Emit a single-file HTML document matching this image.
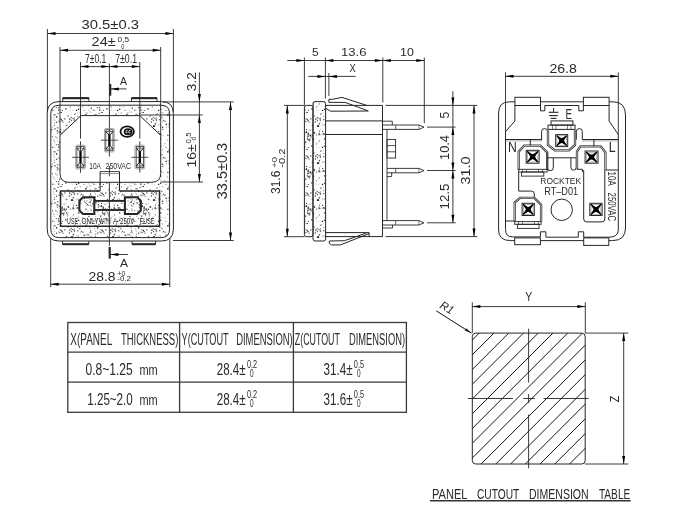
<!DOCTYPE html>
<html><head><meta charset="utf-8"><style>html,body{margin:0;padding:0;background:#fff;width:700px;height:516px;overflow:hidden} svg{will-change:transform} text{font-family:"Liberation Sans",sans-serif}</style></head>
<body><svg width="700" height="516" viewBox="0 0 700 516" style="display:block" font-family="Liberation Sans, sans-serif">
<defs><pattern id="stip" width="41" height="37" patternUnits="userSpaceOnUse"><rect x="18.5" y="20.7" width="1.4" height="1.4" fill="#222" fill-opacity="1.0"/><rect x="20.8" y="21.7" width="1.0" height="1.0" fill="#222" fill-opacity="1.0"/><rect x="25.8" y="29.3" width="0.9" height="0.9" fill="#222" fill-opacity="1.0"/><rect x="12.4" y="3.4" width="0.9" height="0.9" fill="#222" fill-opacity="1.0"/><rect x="39.6" y="24.2" width="1.0" height="1.0" fill="#222" fill-opacity="0.35"/><rect x="34.1" y="2.3" width="0.9" height="0.9" fill="#222" fill-opacity="0.6"/><rect x="36.1" y="22.2" width="1.4" height="1.4" fill="#222" fill-opacity="0.85"/><rect x="18.1" y="31.2" width="1.0" height="1.0" fill="#222" fill-opacity="0.85"/><rect x="20.5" y="24.5" width="1.4" height="1.4" fill="#222" fill-opacity="0.85"/><rect x="16.7" y="20.4" width="0.9" height="0.9" fill="#222" fill-opacity="0.85"/><rect x="12.9" y="8.5" width="1.2" height="1.2" fill="#222" fill-opacity="0.35"/><rect x="2.9" y="28.4" width="1.4" height="1.4" fill="#222" fill-opacity="0.35"/><rect x="34.7" y="14.3" width="0.9" height="0.9" fill="#222" fill-opacity="0.35"/><rect x="8.8" y="34.3" width="0.9" height="0.9" fill="#222" fill-opacity="1.0"/><rect x="15.4" y="26.2" width="1.4" height="1.4" fill="#222" fill-opacity="0.35"/><rect x="23.2" y="7.3" width="1.2" height="1.2" fill="#222" fill-opacity="0.85"/><rect x="3.6" y="12.3" width="1.4" height="1.4" fill="#222" fill-opacity="0.35"/><rect x="5.5" y="26.2" width="0.9" height="0.9" fill="#222" fill-opacity="0.35"/><rect x="19.1" y="18.0" width="1.0" height="1.0" fill="#222" fill-opacity="1.0"/><rect x="20.9" y="36.5" width="1.0" height="1.0" fill="#222" fill-opacity="1.0"/><rect x="26.4" y="4.3" width="1.4" height="1.4" fill="#222" fill-opacity="0.6"/><rect x="0.0" y="32.0" width="1.2" height="1.2" fill="#222" fill-opacity="0.35"/><rect x="8.6" y="14.6" width="0.9" height="0.9" fill="#222" fill-opacity="0.35"/><rect x="40.6" y="7.9" width="1.2" height="1.2" fill="#222" fill-opacity="0.35"/><rect x="31.7" y="12.2" width="1.2" height="1.2" fill="#222" fill-opacity="1.0"/><rect x="3.0" y="3.3" width="1.0" height="1.0" fill="#222" fill-opacity="0.35"/><rect x="24.7" y="13.8" width="1.4" height="1.4" fill="#222" fill-opacity="0.6"/><rect x="39.3" y="17.9" width="1.0" height="1.0" fill="#222" fill-opacity="1.0"/><rect x="7.5" y="5.7" width="1.0" height="1.0" fill="#222" fill-opacity="0.6"/><rect x="29.7" y="5.9" width="1.0" height="1.0" fill="#222" fill-opacity="1.0"/><rect x="36.2" y="22.3" width="1.4" height="1.4" fill="#222" fill-opacity="0.35"/><rect x="4.3" y="1.4" width="1.2" height="1.2" fill="#222" fill-opacity="0.6"/><rect x="30.3" y="14.5" width="1.4" height="1.4" fill="#222" fill-opacity="1.0"/><rect x="12.0" y="6.5" width="0.9" height="0.9" fill="#222" fill-opacity="0.6"/><rect x="9.4" y="20.7" width="0.9" height="0.9" fill="#222" fill-opacity="0.85"/><rect x="8.7" y="33.9" width="0.9" height="0.9" fill="#222" fill-opacity="0.35"/><rect x="11.0" y="16.5" width="0.9" height="0.9" fill="#222" fill-opacity="0.35"/><rect x="7.2" y="13.6" width="1.0" height="1.0" fill="#222" fill-opacity="0.35"/><rect x="14.8" y="33.0" width="1.2" height="1.2" fill="#222" fill-opacity="0.6"/><rect x="24.2" y="34.2" width="1.4" height="1.4" fill="#222" fill-opacity="0.85"/><rect x="28.7" y="35.6" width="0.9" height="0.9" fill="#222" fill-opacity="0.35"/><rect x="19.8" y="27.0" width="1.2" height="1.2" fill="#222" fill-opacity="0.6"/><rect x="41.0" y="2.8" width="1.2" height="1.2" fill="#222" fill-opacity="0.35"/><rect x="36.9" y="27.3" width="1.0" height="1.0" fill="#222" fill-opacity="0.85"/><rect x="14.4" y="25.4" width="0.9" height="0.9" fill="#222" fill-opacity="1.0"/><rect x="38.7" y="1.1" width="1.4" height="1.4" fill="#222" fill-opacity="0.35"/><rect x="25.6" y="14.1" width="0.9" height="0.9" fill="#222" fill-opacity="0.35"/><rect x="3.3" y="23.7" width="1.2" height="1.2" fill="#222" fill-opacity="1.0"/><rect x="29.9" y="14.4" width="1.4" height="1.4" fill="#222" fill-opacity="1.0"/><rect x="19.0" y="20.0" width="0.9" height="0.9" fill="#222" fill-opacity="0.85"/><rect x="24.7" y="17.8" width="1.0" height="1.0" fill="#222" fill-opacity="0.35"/><rect x="20.4" y="22.7" width="1.4" height="1.4" fill="#222" fill-opacity="0.85"/><rect x="36.8" y="13.6" width="1.0" height="1.0" fill="#222" fill-opacity="0.6"/><rect x="21.3" y="27.9" width="1.2" height="1.2" fill="#222" fill-opacity="1.0"/><rect x="20.4" y="8.9" width="1.4" height="1.4" fill="#222" fill-opacity="0.85"/><rect x="8.1" y="15.9" width="1.0" height="1.0" fill="#222" fill-opacity="0.6"/><rect x="15.8" y="21.6" width="1.2" height="1.2" fill="#222" fill-opacity="0.6"/><rect x="5.6" y="18.4" width="0.9" height="0.9" fill="#222" fill-opacity="0.35"/><rect x="39.0" y="10.2" width="1.0" height="1.0" fill="#222" fill-opacity="0.35"/><rect x="18.5" y="10.2" width="1.0" height="1.0" fill="#222" fill-opacity="1.0"/><rect x="15.7" y="19.2" width="1.2" height="1.2" fill="#222" fill-opacity="1.0"/><rect x="13.1" y="30.7" width="1.2" height="1.2" fill="#222" fill-opacity="0.35"/><rect x="27.8" y="10.4" width="1.2" height="1.2" fill="#222" fill-opacity="0.85"/><rect x="26.6" y="20.9" width="1.0" height="1.0" fill="#222" fill-opacity="1.0"/><rect x="18.6" y="0.9" width="1.2" height="1.2" fill="#222" fill-opacity="0.6"/><rect x="31.9" y="29.5" width="0.9" height="0.9" fill="#222" fill-opacity="1.0"/><rect x="4.5" y="19.8" width="1.2" height="1.2" fill="#222" fill-opacity="0.35"/><rect x="28.1" y="7.4" width="1.4" height="1.4" fill="#222" fill-opacity="0.85"/><rect x="7.3" y="0.4" width="1.4" height="1.4" fill="#222" fill-opacity="0.35"/><rect x="7.3" y="10.1" width="1.2" height="1.2" fill="#222" fill-opacity="0.6"/><rect x="16.1" y="29.3" width="1.0" height="1.0" fill="#222" fill-opacity="0.35"/><rect x="16.8" y="33.0" width="1.4" height="1.4" fill="#222" fill-opacity="0.6"/><rect x="18.5" y="7.3" width="0.9" height="0.9" fill="#222" fill-opacity="1.0"/><rect x="22.6" y="24.1" width="1.2" height="1.2" fill="#222" fill-opacity="1.0"/><rect x="13.4" y="36.3" width="0.9" height="0.9" fill="#222" fill-opacity="0.35"/><rect x="8.7" y="33.3" width="0.9" height="0.9" fill="#222" fill-opacity="0.85"/><rect x="22.0" y="29.3" width="1.2" height="1.2" fill="#222" fill-opacity="0.85"/><rect x="37.3" y="31.7" width="1.2" height="1.2" fill="#222" fill-opacity="0.35"/><rect x="1.5" y="12.7" width="1.4" height="1.4" fill="#222" fill-opacity="0.85"/><rect x="20.0" y="1.1" width="0.9" height="0.9" fill="#222" fill-opacity="1.0"/><rect x="32.8" y="6.4" width="1.2" height="1.2" fill="#222" fill-opacity="0.6"/><rect x="19.3" y="37.0" width="1.4" height="1.4" fill="#222" fill-opacity="1.0"/><rect x="23.7" y="25.5" width="1.0" height="1.0" fill="#222" fill-opacity="1.0"/><rect x="21.6" y="10.7" width="1.0" height="1.0" fill="#222" fill-opacity="0.85"/><rect x="12.8" y="14.1" width="1.0" height="1.0" fill="#222" fill-opacity="0.85"/><rect x="34.9" y="35.8" width="1.2" height="1.2" fill="#222" fill-opacity="1.0"/><rect x="8.2" y="19.8" width="0.9" height="0.9" fill="#222" fill-opacity="1.0"/><rect x="1.1" y="35.9" width="1.4" height="1.4" fill="#222" fill-opacity="0.35"/><rect x="20.1" y="25.6" width="0.9" height="0.9" fill="#222" fill-opacity="1.0"/><rect x="17.0" y="35.4" width="1.4" height="1.4" fill="#222" fill-opacity="0.85"/><rect x="10.1" y="18.2" width="1.2" height="1.2" fill="#222" fill-opacity="1.0"/><rect x="36.9" y="34.6" width="1.4" height="1.4" fill="#222" fill-opacity="0.85"/><rect x="4.5" y="15.5" width="0.9" height="0.9" fill="#222" fill-opacity="0.85"/><rect x="5.3" y="28.8" width="0.9" height="0.9" fill="#222" fill-opacity="0.35"/><rect x="8.0" y="8.4" width="1.2" height="1.2" fill="#222" fill-opacity="0.85"/><rect x="29.7" y="9.0" width="1.4" height="1.4" fill="#222" fill-opacity="0.35"/><rect x="20.5" y="21.5" width="1.2" height="1.2" fill="#222" fill-opacity="0.6"/><rect x="28.8" y="32.5" width="0.9" height="0.9" fill="#222" fill-opacity="1.0"/><rect x="26.0" y="30.5" width="1.0" height="1.0" fill="#222" fill-opacity="0.6"/><rect x="35.4" y="19.8" width="1.0" height="1.0" fill="#222" fill-opacity="0.6"/><rect x="34.9" y="22.6" width="1.0" height="1.0" fill="#222" fill-opacity="0.6"/><rect x="37.5" y="23.2" width="1.2" height="1.2" fill="#222" fill-opacity="0.6"/><rect x="13.0" y="11.7" width="1.0" height="1.0" fill="#222" fill-opacity="0.6"/><rect x="31.9" y="7.2" width="0.9" height="0.9" fill="#222" fill-opacity="0.6"/><rect x="36.4" y="4.9" width="0.9" height="0.9" fill="#222" fill-opacity="0.85"/><rect x="15.9" y="16.1" width="1.4" height="1.4" fill="#222" fill-opacity="0.6"/><rect x="8.2" y="23.2" width="0.9" height="0.9" fill="#222" fill-opacity="0.35"/><rect x="8.2" y="25.2" width="1.2" height="1.2" fill="#222" fill-opacity="0.35"/><rect x="28.9" y="23.5" width="1.2" height="1.2" fill="#222" fill-opacity="0.6"/><rect x="32.9" y="17.8" width="0.9" height="0.9" fill="#222" fill-opacity="0.35"/><rect x="31.2" y="22.7" width="1.4" height="1.4" fill="#222" fill-opacity="0.6"/><rect x="7.8" y="4.3" width="1.0" height="1.0" fill="#222" fill-opacity="0.6"/><rect x="40.6" y="34.3" width="0.9" height="0.9" fill="#222" fill-opacity="0.35"/><rect x="5.5" y="25.2" width="0.9" height="0.9" fill="#222" fill-opacity="0.35"/><rect x="13.4" y="17.3" width="1.2" height="1.2" fill="#222" fill-opacity="1.0"/><rect x="8.6" y="13.8" width="0.9" height="0.9" fill="#222" fill-opacity="0.6"/><rect x="7.4" y="16.8" width="1.2" height="1.2" fill="#222" fill-opacity="1.0"/><rect x="37.8" y="22.4" width="0.9" height="0.9" fill="#222" fill-opacity="0.35"/><rect x="13.3" y="3.1" width="1.4" height="1.4" fill="#222" fill-opacity="0.6"/><rect x="20.7" y="36.4" width="1.2" height="1.2" fill="#222" fill-opacity="0.85"/><rect x="37.4" y="27.5" width="1.0" height="1.0" fill="#222" fill-opacity="1.0"/><rect x="5.5" y="12.2" width="1.2" height="1.2" fill="#222" fill-opacity="1.0"/><rect x="31.4" y="15.0" width="1.0" height="1.0" fill="#222" fill-opacity="0.35"/><rect x="32.7" y="11.2" width="0.9" height="0.9" fill="#222" fill-opacity="0.35"/><rect x="36.4" y="36.7" width="0.9" height="0.9" fill="#222" fill-opacity="0.6"/><rect x="11.2" y="35.6" width="1.2" height="1.2" fill="#222" fill-opacity="0.85"/><rect x="8.9" y="15.0" width="1.0" height="1.0" fill="#222" fill-opacity="0.35"/><rect x="16.0" y="37.0" width="1.0" height="1.0" fill="#222" fill-opacity="0.35"/><rect x="31.2" y="36.3" width="0.9" height="0.9" fill="#222" fill-opacity="0.35"/><rect x="25.2" y="27.3" width="1.2" height="1.2" fill="#222" fill-opacity="1.0"/><rect x="16.5" y="1.9" width="1.0" height="1.0" fill="#222" fill-opacity="1.0"/><rect x="0.4" y="9.6" width="1.2" height="1.2" fill="#222" fill-opacity="0.85"/><rect x="22.6" y="18.8" width="0.9" height="0.9" fill="#222" fill-opacity="1.0"/><rect x="33.2" y="2.8" width="0.9" height="0.9" fill="#222" fill-opacity="1.0"/><rect x="38.1" y="5.9" width="1.4" height="1.4" fill="#222" fill-opacity="0.6"/><rect x="35.1" y="20.1" width="0.9" height="0.9" fill="#222" fill-opacity="1.0"/><rect x="38.8" y="15.6" width="1.4" height="1.4" fill="#222" fill-opacity="0.85"/><rect x="15.0" y="10.6" width="1.2" height="1.2" fill="#222" fill-opacity="0.85"/><rect x="27.2" y="27.7" width="0.9" height="0.9" fill="#222" fill-opacity="0.35"/><rect x="31.7" y="21.7" width="1.0" height="1.0" fill="#222" fill-opacity="1.0"/><rect x="30.9" y="14.4" width="1.2" height="1.2" fill="#222" fill-opacity="1.0"/><rect x="2.1" y="36.6" width="1.2" height="1.2" fill="#222" fill-opacity="0.35"/><rect x="32.7" y="8.3" width="1.4" height="1.4" fill="#222" fill-opacity="0.85"/><rect x="39.9" y="9.0" width="0.9" height="0.9" fill="#222" fill-opacity="1.0"/><rect x="5.9" y="35.5" width="1.0" height="1.0" fill="#222" fill-opacity="0.35"/><rect x="2.1" y="15.4" width="0.9" height="0.9" fill="#222" fill-opacity="0.6"/><rect x="35.3" y="13.2" width="1.0" height="1.0" fill="#222" fill-opacity="0.35"/><rect x="14.9" y="5.2" width="1.4" height="1.4" fill="#222" fill-opacity="1.0"/><rect x="24.6" y="23.7" width="1.4" height="1.4" fill="#222" fill-opacity="0.85"/><rect x="31.9" y="19.6" width="1.0" height="1.0" fill="#222" fill-opacity="0.85"/><rect x="30.1" y="8.8" width="0.9" height="0.9" fill="#222" fill-opacity="0.85"/><rect x="32.2" y="23.1" width="1.2" height="1.2" fill="#222" fill-opacity="0.85"/><rect x="11.1" y="25.3" width="1.0" height="1.0" fill="#222" fill-opacity="0.85"/><rect x="30.9" y="7.0" width="1.0" height="1.0" fill="#222" fill-opacity="0.6"/><rect x="36.0" y="1.5" width="0.9" height="0.9" fill="#222" fill-opacity="0.35"/><rect x="11.1" y="15.7" width="0.9" height="0.9" fill="#222" fill-opacity="0.35"/><rect x="9.1" y="10.3" width="0.9" height="0.9" fill="#222" fill-opacity="0.6"/><rect x="22.6" y="23.4" width="1.2" height="1.2" fill="#222" fill-opacity="1.0"/><rect x="19.6" y="7.8" width="1.2" height="1.2" fill="#222" fill-opacity="1.0"/><rect x="30.5" y="31.0" width="0.9" height="0.9" fill="#222" fill-opacity="0.35"/><rect x="18.3" y="30.4" width="1.0" height="1.0" fill="#222" fill-opacity="1.0"/><rect x="17.4" y="9.5" width="1.0" height="1.0" fill="#222" fill-opacity="0.85"/><rect x="6.3" y="30.9" width="1.2" height="1.2" fill="#222" fill-opacity="0.85"/><rect x="22.5" y="27.6" width="1.0" height="1.0" fill="#222" fill-opacity="1.0"/><rect x="26.8" y="21.5" width="1.4" height="1.4" fill="#222" fill-opacity="0.85"/><rect x="3.2" y="3.1" width="1.4" height="1.4" fill="#222" fill-opacity="1.0"/><rect x="12.3" y="28.7" width="0.9" height="0.9" fill="#222" fill-opacity="0.85"/><rect x="8.7" y="24.5" width="0.9" height="0.9" fill="#222" fill-opacity="0.85"/><rect x="20.3" y="28.3" width="1.2" height="1.2" fill="#222" fill-opacity="0.85"/><rect x="36.2" y="8.1" width="1.2" height="1.2" fill="#222" fill-opacity="0.85"/></pattern></defs>
<rect width="700" height="516" fill="#fff"/>
<path d="M59.3,105.2 L161.1,105.2 Q169.6,105.2 169.6,113.7 L169.6,229.1 Q169.6,237.6 161.1,237.6 L59.3,237.6 Q50.8,237.6 50.8,229.1 L50.8,113.7 Q50.8,105.2 59.3,105.2 Z M81,115.6 L139.8,115.6 L160.7,135.3 L160.7,173.3 Q160.7,182.3 151.7,182.3 L69,182.3 Q60,182.3 60,173.3 L60,135.3 Z" fill="url(#stip)" fill-rule="evenodd" stroke="none"/>
<path d="M59.2,101.6 L161.4,101.6 Q173.4,101.6 173.4,113.6 L173.4,229 Q173.4,241 161.4,241 L59.2,241 Q47.2,241 47.2,229 L47.2,113.6 Q47.2,101.6 59.2,101.6 Z" fill="none" stroke="#262626" stroke-width="1.0" />
<path d="M59.3,105.2 L161.1,105.2 Q169.6,105.2 169.6,113.7 L169.6,229.1 Q169.6,237.6 161.1,237.6 L59.3,237.6 Q50.8,237.6 50.8,229.1 L50.8,113.7 Q50.8,105.2 59.3,105.2 Z" fill="none" stroke="#262626" stroke-width="1.0" />
<path d="M81,115.6 L139.8,115.6 L160.7,135.3 L160.7,173.3 Q160.7,182.3 151.7,182.3 L69,182.3 Q60,182.3 60,173.3 L60,135.3 Z" fill="none" stroke="#262626" stroke-width="1.0" />
<polyline points="62.70,101.60 62.70,97.80 88.90,97.80 88.90,101.60" fill="none" stroke="#262626" stroke-width="0.9" stroke-linejoin="miter"/>
<line x1="62.70" y1="98.20" x2="88.90" y2="98.20" stroke="#262626" stroke-width="2.0"/>
<polyline points="131.50,101.60 131.50,97.80 157.00,97.80 157.00,101.60" fill="none" stroke="#262626" stroke-width="0.9" stroke-linejoin="miter"/>
<line x1="131.50" y1="98.20" x2="157.00" y2="98.20" stroke="#262626" stroke-width="2.0"/>
<polyline points="62.60,241.00 62.60,244.40 88.80,244.40 88.80,241.00" fill="none" stroke="#262626" stroke-width="0.9" stroke-linejoin="miter"/>
<line x1="62.60" y1="244.20" x2="88.80" y2="244.20" stroke="#262626" stroke-width="2.0"/>
<polyline points="132.00,241.00 132.00,244.40 155.60,244.40 155.60,241.00" fill="none" stroke="#262626" stroke-width="0.9" stroke-linejoin="miter"/>
<line x1="132.00" y1="244.20" x2="155.60" y2="244.20" stroke="#262626" stroke-width="2.0"/>
<line x1="47.40" y1="29.00" x2="47.40" y2="112.00" stroke="#262626" stroke-width="0.9"/>
<line x1="173.40" y1="29.00" x2="173.40" y2="112.00" stroke="#262626" stroke-width="0.9"/>
<line x1="60.00" y1="47.00" x2="60.00" y2="135.30" stroke="#262626" stroke-width="0.9"/>
<line x1="160.70" y1="47.00" x2="160.70" y2="135.30" stroke="#262626" stroke-width="0.9"/>
<line x1="80.50" y1="62.00" x2="80.50" y2="138.60" stroke="#262626" stroke-width="0.9"/>
<line x1="80.50" y1="141.30" x2="80.50" y2="172.70" stroke="#262626" stroke-width="0.9"/>
<line x1="139.80" y1="62.00" x2="139.80" y2="138.60" stroke="#262626" stroke-width="0.9"/>
<line x1="139.80" y1="141.30" x2="139.80" y2="172.70" stroke="#262626" stroke-width="0.9"/>
<line x1="109.40" y1="63.50" x2="109.40" y2="156.50" stroke="#262626" stroke-width="0.9"/>
<line x1="109.40" y1="166.00" x2="109.40" y2="176.30" stroke="#262626" stroke-width="0.9"/>
<line x1="109.40" y1="182.50" x2="109.40" y2="246.00" stroke="#262626" stroke-width="0.9"/>
<line x1="47.50" y1="33.50" x2="173.40" y2="33.50" stroke="#262626" stroke-width="0.9"/>
<polygon points="47.50,33.50 55.50,32.00 55.50,35.00" fill="#000"/>
<polygon points="173.40,33.50 165.40,32.00 165.40,35.00" fill="#000"/>
<line x1="60.00" y1="50.30" x2="160.70" y2="50.30" stroke="#262626" stroke-width="0.9"/>
<polygon points="60.00,50.30 68.00,48.80 68.00,51.80" fill="#000"/>
<polygon points="160.70,50.30 152.70,48.80 152.70,51.80" fill="#000"/>
<line x1="80.50" y1="66.60" x2="139.80" y2="66.60" stroke="#262626" stroke-width="0.9"/>
<polygon points="80.50,66.60 88.50,65.10 88.50,68.10" fill="#000"/>
<polygon points="109.40,66.60 101.40,65.10 101.40,68.10" fill="#000"/>
<polygon points="109.40,66.60 117.40,65.10 117.40,68.10" fill="#000"/>
<polygon points="139.80,66.60 131.80,65.10 131.80,68.10" fill="#000"/>
<text x="81.50" y="29.00" font-size="12.00" fill="#2a2a2a" text-anchor="start" font-weight="normal" textLength="57.50" lengthAdjust="spacingAndGlyphs" >30.5±0.3</text>
<text x="91.60" y="46.40" font-size="13.29" fill="#2a2a2a" text-anchor="start" font-weight="normal" textLength="24.00" lengthAdjust="spacingAndGlyphs" >24±</text>
<text x="117.60" y="42.40" font-size="7.14" fill="#2a2a2a" text-anchor="start" font-weight="normal" textLength="11.60" lengthAdjust="spacingAndGlyphs" >0,5</text>
<text x="121.30" y="48.60" font-size="7.14" fill="#2a2a2a" text-anchor="start" font-weight="normal" textLength="3.10" lengthAdjust="spacingAndGlyphs" >0</text>
<text x="85.00" y="62.80" font-size="12.43" fill="#2a2a2a" text-anchor="start" font-weight="normal" textLength="21.30" lengthAdjust="spacingAndGlyphs" >7±0.1</text>
<text x="115.20" y="62.80" font-size="12.43" fill="#2a2a2a" text-anchor="start" font-weight="normal" textLength="21.80" lengthAdjust="spacingAndGlyphs" >7±0.1</text>
<line x1="110.20" y1="84.00" x2="110.20" y2="95.70" stroke="#262626" stroke-width="2.2"/>
<line x1="110.20" y1="88.90" x2="126.50" y2="88.90" stroke="#262626" stroke-width="0.9"/>
<polygon points="110.80,88.90 118.80,87.40 118.80,90.40" fill="#000"/>
<text x="120.00" y="84.50" font-size="11.00" fill="#2a2a2a" text-anchor="start" font-weight="normal" textLength="7.00" lengthAdjust="spacingAndGlyphs" >A</text>
<line x1="109.70" y1="247.00" x2="109.70" y2="258.60" stroke="#262626" stroke-width="2.2"/>
<line x1="109.70" y1="254.50" x2="128.00" y2="254.50" stroke="#262626" stroke-width="0.9"/>
<polygon points="110.30,254.50 118.30,253.00 118.30,256.00" fill="#000"/>
<text x="120.00" y="267.00" font-size="11.14" fill="#2a2a2a" text-anchor="start" font-weight="normal" textLength="8.00" lengthAdjust="spacingAndGlyphs" >A</text>
<rect x="75.60" y="145.20" width="9.80" height="23.80" rx="1.5" fill="none" stroke="#888" stroke-width="0.7"/>
<rect x="76.90" y="146.50" width="7.20" height="21.20" rx="0" fill="none" stroke="#333" stroke-width="0.8"/>
<polyline points="76.90,148.20 84.10,148.20" fill="none" stroke="#444" stroke-width="0.8" stroke-linejoin="miter"/>
<polyline points="76.90,166.00 84.10,166.00" fill="none" stroke="#444" stroke-width="0.8" stroke-linejoin="miter"/>
<polyline points="76.90,148.20 80.50,152.20 84.10,148.20" fill="none" stroke="#111" stroke-width="1.0" stroke-linejoin="miter"/>
<polyline points="76.90,166.00 80.50,162.00 84.10,166.00" fill="none" stroke="#111" stroke-width="1.0" stroke-linejoin="miter"/>
<line x1="80.50" y1="151.70" x2="80.50" y2="162.50" stroke="#000" stroke-width="2.3"/>
<line x1="72.00" y1="157.30" x2="89.00" y2="157.30" stroke="#262626" stroke-width="0.8"/>
<rect x="104.50" y="128.50" width="9.80" height="23.50" rx="1.5" fill="none" stroke="#888" stroke-width="0.7"/>
<rect x="105.80" y="129.80" width="7.20" height="20.90" rx="0" fill="none" stroke="#333" stroke-width="0.8"/>
<polyline points="105.80,131.50 113.00,131.50" fill="none" stroke="#444" stroke-width="0.8" stroke-linejoin="miter"/>
<polyline points="105.80,149.00 113.00,149.00" fill="none" stroke="#444" stroke-width="0.8" stroke-linejoin="miter"/>
<polyline points="105.80,131.50 109.40,135.50 113.00,131.50" fill="none" stroke="#111" stroke-width="1.0" stroke-linejoin="miter"/>
<polyline points="105.80,149.00 109.40,145.00 113.00,149.00" fill="none" stroke="#111" stroke-width="1.0" stroke-linejoin="miter"/>
<line x1="109.40" y1="135.00" x2="109.40" y2="145.50" stroke="#000" stroke-width="2.3"/>
<line x1="100.90" y1="140.20" x2="117.90" y2="140.20" stroke="#262626" stroke-width="0.8"/>
<rect x="134.90" y="145.20" width="9.80" height="23.80" rx="1.5" fill="none" stroke="#888" stroke-width="0.7"/>
<rect x="136.20" y="146.50" width="7.20" height="21.20" rx="0" fill="none" stroke="#333" stroke-width="0.8"/>
<polyline points="136.20,148.20 143.40,148.20" fill="none" stroke="#444" stroke-width="0.8" stroke-linejoin="miter"/>
<polyline points="136.20,166.00 143.40,166.00" fill="none" stroke="#444" stroke-width="0.8" stroke-linejoin="miter"/>
<polyline points="136.20,148.20 139.80,152.20 143.40,148.20" fill="none" stroke="#111" stroke-width="1.0" stroke-linejoin="miter"/>
<polyline points="136.20,166.00 139.80,162.00 143.40,166.00" fill="none" stroke="#111" stroke-width="1.0" stroke-linejoin="miter"/>
<line x1="139.80" y1="151.70" x2="139.80" y2="162.50" stroke="#000" stroke-width="2.3"/>
<line x1="131.30" y1="157.30" x2="148.30" y2="157.30" stroke="#262626" stroke-width="0.8"/>
<ellipse cx="127.2" cy="131.6" rx="6.7" ry="5.3" fill="none" stroke="#111" stroke-width="1.8"/>
<ellipse cx="128.1" cy="131.7" rx="4.4" ry="3.5" fill="#111"/>
<path d="M127.6,130.6 A1.2,1.2 0 1 0 127.6,132.8 M130.4,130.6 A1.2,1.2 0 1 0 130.4,132.8" fill="none" stroke="#fff" stroke-width="0.8"/>
<text x="89.30" y="169.00" font-size="9.43" fill="#2a2a2a" text-anchor="start" font-weight="normal" textLength="11.70" lengthAdjust="spacingAndGlyphs" >10A</text>
<text x="105.50" y="169.00" font-size="9.43" fill="#2a2a2a" text-anchor="start" font-weight="normal" textLength="25.50" lengthAdjust="spacingAndGlyphs" >250VAC</text>
<line x1="100.10" y1="171.60" x2="119.50" y2="171.60" stroke="#262626" stroke-width="0.9"/>
<line x1="100.10" y1="173.60" x2="119.50" y2="173.60" stroke="#888" stroke-width="0.9"/>
<line x1="100.10" y1="171.60" x2="100.10" y2="191.00" stroke="#262626" stroke-width="1.0"/>
<line x1="119.50" y1="171.60" x2="119.50" y2="191.00" stroke="#262626" stroke-width="1.0"/>
<polyline points="100.10,191.00 60.50,191.00 60.50,226.30 159.50,226.30 159.50,191.00 119.50,191.00" fill="none" stroke="#262626" stroke-width="1.5" stroke-linejoin="miter"/>
<polygon points="94.30,197.20 83.00,197.20 79.40,200.80 79.40,210.60 83.00,214.00 94.30,214.00" fill="none" stroke="#262626" stroke-width="2.1" stroke-linejoin="miter"/>
<polygon points="124.90,197.20 137.20,197.20 140.80,200.80 140.80,210.60 137.20,214.00 124.90,214.00" fill="none" stroke="#262626" stroke-width="2.1" stroke-linejoin="miter"/>
<line x1="94.30" y1="200.90" x2="124.90" y2="200.90" stroke="#262626" stroke-width="1.9"/>
<line x1="94.30" y1="210.00" x2="124.90" y2="210.00" stroke="#262626" stroke-width="1.9"/>
<line x1="84.20" y1="201.50" x2="88.60" y2="205.60" stroke="#262626" stroke-width="0.8"/>
<text x="67.10" y="224.00" font-size="9.14" fill="#1e1e1e" text-anchor="start" font-weight="normal" textLength="10.80" lengthAdjust="spacingAndGlyphs" >USE</text>
<text x="81.40" y="224.00" font-size="9.14" fill="#1e1e1e" text-anchor="start" font-weight="normal" textLength="17.20" lengthAdjust="spacingAndGlyphs" >ONLY</text>
<text x="99.60" y="224.00" font-size="9.14" fill="#1e1e1e" text-anchor="start" font-weight="normal" textLength="10.90" lengthAdjust="spacingAndGlyphs" >WITH</text>
<text x="112.90" y="224.00" font-size="9.14" fill="#1e1e1e" text-anchor="start" font-weight="normal" textLength="4.30" lengthAdjust="spacingAndGlyphs" >A</text>
<text x="120.00" y="224.00" font-size="9.14" fill="#1e1e1e" text-anchor="start" font-weight="normal" textLength="14.30" lengthAdjust="spacingAndGlyphs" >250V</text>
<text x="140.00" y="224.00" font-size="9.14" fill="#1e1e1e" text-anchor="start" font-weight="normal" textLength="14.30" lengthAdjust="spacingAndGlyphs" >FUSE</text>
<line x1="163.00" y1="101.90" x2="233.60" y2="101.90" stroke="#262626" stroke-width="0.9"/>
<line x1="139.80" y1="115.00" x2="202.60" y2="115.00" stroke="#262626" stroke-width="0.9"/>
<line x1="160.70" y1="182.00" x2="203.00" y2="182.00" stroke="#262626" stroke-width="0.9"/>
<line x1="173.00" y1="240.50" x2="233.70" y2="240.50" stroke="#262626" stroke-width="0.9"/>
<line x1="199.40" y1="72.40" x2="199.40" y2="101.90" stroke="#262626" stroke-width="0.9"/>
<polygon points="199.40,101.90 197.90,93.90 200.90,93.90" fill="#000"/>
<line x1="199.40" y1="101.90" x2="199.40" y2="182.00" stroke="#262626" stroke-width="0.9"/>
<polygon points="199.40,115.00 197.90,123.00 200.90,123.00" fill="#000"/>
<polygon points="199.40,182.00 197.90,174.00 200.90,174.00" fill="#000"/>
<text transform="translate(196.40,91.20) rotate(-90)" x="0" y="0" font-size="13.43" fill="#2a2a2a" text-anchor="start" font-weight="normal" textLength="19.00" lengthAdjust="spacingAndGlyphs" >3.2</text>
<text transform="translate(196.20,167.60) rotate(-90)" x="0" y="0" font-size="12.43" fill="#2a2a2a" text-anchor="start" font-weight="normal" textLength="23.20" lengthAdjust="spacingAndGlyphs" >16±</text>
<text transform="translate(190.60,143.40) rotate(-90)" x="0" y="0" font-size="6.86" fill="#2a2a2a" text-anchor="start" font-weight="normal" textLength="11.00" lengthAdjust="spacingAndGlyphs" >0,5</text>
<text transform="translate(196.20,140.60) rotate(-90)" x="0" y="0" font-size="5.43" fill="#2a2a2a" text-anchor="start" font-weight="normal" textLength="3.90" lengthAdjust="spacingAndGlyphs" >0</text>
<line x1="230.50" y1="101.90" x2="230.50" y2="240.50" stroke="#262626" stroke-width="0.9"/>
<polygon points="230.50,101.90 229.00,109.90 232.00,109.90" fill="#000"/>
<polygon points="230.50,240.50 229.00,232.50 232.00,232.50" fill="#000"/>
<text transform="translate(227.00,199.20) rotate(-90)" x="0" y="0" font-size="13.71" fill="#2a2a2a" text-anchor="start" font-weight="normal" textLength="56.20" lengthAdjust="spacingAndGlyphs" >33.5±0.3</text>
<line x1="50.70" y1="238.00" x2="50.70" y2="287.00" stroke="#262626" stroke-width="0.9"/>
<line x1="169.80" y1="238.00" x2="169.80" y2="287.00" stroke="#262626" stroke-width="0.9"/>
<line x1="50.70" y1="284.20" x2="169.80" y2="284.20" stroke="#262626" stroke-width="0.9"/>
<polygon points="50.70,284.20 58.70,282.70 58.70,285.70" fill="#000"/>
<polygon points="169.80,284.20 161.80,282.70 161.80,285.70" fill="#000"/>
<text x="88.50" y="280.70" font-size="13.00" fill="#2a2a2a" text-anchor="start" font-weight="normal" textLength="27.00" lengthAdjust="spacingAndGlyphs" >28.8</text>
<text x="117.30" y="275.90" font-size="6.43" fill="#2a2a2a" text-anchor="start" font-weight="normal" textLength="8.00" lengthAdjust="spacingAndGlyphs" >+0</text>
<text x="117.30" y="280.90" font-size="6.43" fill="#2a2a2a" text-anchor="start" font-weight="normal" textLength="13.50" lengthAdjust="spacingAndGlyphs" >-0.2</text>
<rect x="304.4" y="105.4" width="8.60" height="131.30" rx="2" fill="url(#stip)" stroke="#262626" stroke-width="1.0"/>
<rect x="313.0" y="101.6" width="12.60" height="139.40" rx="2" fill="url(#stip)" stroke="#262626" stroke-width="1.0"/>
<line x1="325.60" y1="105.40" x2="382.50" y2="105.40" stroke="#262626" stroke-width="1.0"/>
<line x1="385.50" y1="105.40" x2="477.30" y2="105.40" stroke="#262626" stroke-width="0.9"/>
<line x1="325.60" y1="236.60" x2="382.50" y2="236.60" stroke="#262626" stroke-width="1.0"/>
<line x1="385.50" y1="236.60" x2="477.30" y2="236.60" stroke="#262626" stroke-width="0.9"/>
<line x1="382.50" y1="105.40" x2="382.50" y2="236.60" stroke="#262626" stroke-width="1.0"/>
<line x1="325.60" y1="120.90" x2="382.50" y2="120.90" stroke="#262626" stroke-width="1.0"/>
<line x1="325.60" y1="134.50" x2="382.50" y2="134.50" stroke="#262626" stroke-width="1.0"/>
<polyline points="328.90,102.40 328.90,99.30 332.40,99.30 342.00,97.40 366.80,105.40" fill="none" stroke="#262626" stroke-width="1.0" stroke-linejoin="miter"/>
<polyline points="328.90,102.40 345.10,102.40 368.30,110.90" fill="none" stroke="#262626" stroke-width="1.0" stroke-linejoin="miter"/>
<polyline points="325.60,108.20 330.50,111.20 368.30,111.00" fill="none" stroke="#262626" stroke-width="1.0" stroke-linejoin="miter"/>
<polyline points="325.60,232.60 369.10,232.60 369.10,236.60" fill="none" stroke="#262626" stroke-width="1.0" stroke-linejoin="miter"/>
<polyline points="329.30,241.00 344.40,240.70 366.00,233.20" fill="none" stroke="#262626" stroke-width="1.0" stroke-linejoin="miter"/>
<polyline points="369.10,233.60 340.50,244.90 331.50,244.90 329.30,243.40 329.30,241.00" fill="none" stroke="#262626" stroke-width="1.0" stroke-linejoin="miter"/>
<line x1="287.30" y1="60.50" x2="382.80" y2="60.50" stroke="#262626" stroke-width="0.9"/>
<line x1="382.80" y1="60.50" x2="424.30" y2="60.50" stroke="#262626" stroke-width="0.9"/>
<polygon points="304.40,60.50 296.40,59.00 296.40,62.00" fill="#000"/>
<polygon points="325.40,60.50 333.40,59.00 333.40,62.00" fill="#000"/>
<polygon points="382.80,60.50 374.80,59.00 374.80,62.00" fill="#000"/>
<polygon points="382.80,60.50 390.80,59.00 390.80,62.00" fill="#000"/>
<polygon points="424.30,60.50 416.30,59.00 416.30,62.00" fill="#000"/>
<line x1="304.40" y1="57.50" x2="304.40" y2="105.40" stroke="#262626" stroke-width="0.9"/>
<line x1="325.40" y1="57.50" x2="325.40" y2="98.60" stroke="#262626" stroke-width="0.9"/>
<line x1="382.80" y1="57.50" x2="382.80" y2="102.40" stroke="#262626" stroke-width="0.9"/>
<line x1="424.30" y1="57.50" x2="424.30" y2="123.10" stroke="#262626" stroke-width="0.9"/>
<line x1="308.30" y1="76.40" x2="355.70" y2="76.40" stroke="#262626" stroke-width="0.9"/>
<polygon points="325.40,76.40 317.40,74.90 317.40,77.90" fill="#000"/>
<polygon points="328.90,76.40 336.90,74.90 336.90,77.90" fill="#000"/>
<line x1="328.90" y1="73.00" x2="328.90" y2="96.00" stroke="#262626" stroke-width="0.9"/>
<text x="312.00" y="56.00" font-size="11.71" fill="#2a2a2a" text-anchor="start" font-weight="normal" textLength="6.60" lengthAdjust="spacingAndGlyphs" >5</text>
<text x="341.00" y="56.00" font-size="11.71" fill="#2a2a2a" text-anchor="start" font-weight="normal" textLength="25.50" lengthAdjust="spacingAndGlyphs" >13.6</text>
<text x="400.00" y="56.00" font-size="11.71" fill="#2a2a2a" text-anchor="start" font-weight="normal" textLength="13.80" lengthAdjust="spacingAndGlyphs" >10</text>
<text x="349.50" y="72.20" font-size="11.00" fill="#2a2a2a" text-anchor="start" font-weight="normal" textLength="6.20" lengthAdjust="spacingAndGlyphs" >X</text>
<line x1="284.00" y1="105.40" x2="304.40" y2="105.40" stroke="#262626" stroke-width="0.9"/>
<line x1="284.00" y1="236.70" x2="304.40" y2="236.70" stroke="#262626" stroke-width="0.9"/>
<line x1="287.30" y1="105.40" x2="287.30" y2="236.70" stroke="#262626" stroke-width="0.9"/>
<polygon points="287.30,105.40 285.80,113.40 288.80,113.40" fill="#000"/>
<polygon points="287.30,236.70 285.80,228.70 288.80,228.70" fill="#000"/>
<text transform="translate(280.30,194.00) rotate(-90)" x="0" y="0" font-size="12.86" fill="#2a2a2a" text-anchor="start" font-weight="normal" textLength="23.30" lengthAdjust="spacingAndGlyphs" >31.6</text>
<text transform="translate(276.50,167.80) rotate(-90)" x="0" y="0" font-size="7.86" fill="#2a2a2a" text-anchor="start" font-weight="normal" textLength="10.80" lengthAdjust="spacingAndGlyphs" >+0</text>
<text transform="translate(285.20,167.80) rotate(-90)" x="0" y="0" font-size="9.29" fill="#2a2a2a" text-anchor="start" font-weight="normal" textLength="19.40" lengthAdjust="spacingAndGlyphs" >-0.2</text>
<path d="M382.5,125.0 L418.9,125.0 L424.0,127.2 L418.9,129.4 L382.5,129.4" fill="none" stroke="#262626" stroke-width="0.9" />
<line x1="395.70" y1="125.00" x2="395.70" y2="129.40" stroke="#262626" stroke-width="0.7"/>
<line x1="418.90" y1="125.00" x2="418.90" y2="129.40" stroke="#262626" stroke-width="0.6"/>
<path d="M387.0,168.4 L418.9,168.4 L424.0,170.6 L418.9,172.79999999999998 L387.0,172.79999999999998" fill="none" stroke="#262626" stroke-width="0.9" />
<line x1="395.70" y1="168.40" x2="395.70" y2="172.80" stroke="#262626" stroke-width="0.7"/>
<line x1="418.90" y1="168.40" x2="418.90" y2="172.80" stroke="#262626" stroke-width="0.6"/>
<path d="M382.5,220.60000000000002 L418.9,220.60000000000002 L424.0,222.8 L418.9,225.0 L382.5,225.0" fill="none" stroke="#262626" stroke-width="0.9" />
<line x1="395.70" y1="220.60" x2="395.70" y2="225.00" stroke="#262626" stroke-width="0.7"/>
<line x1="418.90" y1="220.60" x2="418.90" y2="225.00" stroke="#262626" stroke-width="0.6"/>
<polyline points="382.50,121.20 392.30,121.20 392.30,125.00" fill="none" stroke="#262626" stroke-width="0.9" stroke-linejoin="miter"/>
<polyline points="382.50,228.00 392.50,228.00 392.50,225.00" fill="none" stroke="#262626" stroke-width="0.9" stroke-linejoin="miter"/>
<line x1="387.00" y1="129.40" x2="387.00" y2="220.60" stroke="#262626" stroke-width="0.9"/>
<rect x="387.00" y="139.40" width="8.60" height="18.60" rx="0" fill="none" stroke="#262626" stroke-width="0.9"/>
<line x1="387.00" y1="145.60" x2="395.60" y2="145.60" stroke="#262626" stroke-width="0.8"/>
<line x1="387.00" y1="151.80" x2="395.60" y2="151.80" stroke="#262626" stroke-width="0.8"/>
<polyline points="387.00,176.60 391.70,176.60 391.70,172.80" fill="none" stroke="#262626" stroke-width="0.9" stroke-linejoin="miter"/>
<line x1="427.00" y1="127.10" x2="455.60" y2="127.10" stroke="#262626" stroke-width="0.9"/>
<line x1="427.00" y1="170.50" x2="455.60" y2="170.50" stroke="#262626" stroke-width="0.9"/>
<line x1="427.00" y1="222.80" x2="455.60" y2="222.80" stroke="#262626" stroke-width="0.9"/>
<line x1="452.90" y1="91.20" x2="452.90" y2="222.80" stroke="#262626" stroke-width="0.9"/>
<polygon points="452.90,105.40 451.40,97.40 454.40,97.40" fill="#000"/>
<polygon points="452.90,127.10 451.40,135.10 454.40,135.10" fill="#000"/>
<polygon points="452.90,170.50 451.40,162.50 454.40,162.50" fill="#000"/>
<polygon points="452.90,170.50 451.40,178.50 454.40,178.50" fill="#000"/>
<polygon points="452.90,222.80 451.40,214.80 454.40,214.80" fill="#000"/>
<text transform="translate(449.40,118.40) rotate(-90)" x="0" y="0" font-size="12.86" fill="#2a2a2a" text-anchor="start" font-weight="normal" textLength="6.80" lengthAdjust="spacingAndGlyphs" >5</text>
<text transform="translate(449.40,160.00) rotate(-90)" x="0" y="0" font-size="12.86" fill="#2a2a2a" text-anchor="start" font-weight="normal" textLength="25.00" lengthAdjust="spacingAndGlyphs" >10.4</text>
<text transform="translate(449.40,209.50) rotate(-90)" x="0" y="0" font-size="12.86" fill="#2a2a2a" text-anchor="start" font-weight="normal" textLength="26.00" lengthAdjust="spacingAndGlyphs" >12.5</text>
<line x1="474.00" y1="105.40" x2="474.00" y2="236.60" stroke="#262626" stroke-width="0.9"/>
<polygon points="474.00,105.40 472.50,113.40 475.50,113.40" fill="#000"/>
<polygon points="474.00,236.60 472.50,228.60 475.50,228.60" fill="#000"/>
<text transform="translate(469.80,184.50) rotate(-90)" x="0" y="0" font-size="12.14" fill="#2a2a2a" text-anchor="start" font-weight="normal" textLength="28.00" lengthAdjust="spacingAndGlyphs" >31.0</text>
<line x1="505.50" y1="72.40" x2="505.50" y2="131.70" stroke="#262626" stroke-width="0.9"/>
<line x1="618.30" y1="72.40" x2="618.30" y2="134.60" stroke="#262626" stroke-width="0.9"/>
<line x1="505.50" y1="76.30" x2="618.30" y2="76.30" stroke="#262626" stroke-width="0.9"/>
<polygon points="505.50,76.30 513.50,74.80 513.50,77.80" fill="#000"/>
<polygon points="618.30,76.30 610.30,74.80 610.30,77.80" fill="#000"/>
<text x="549.40" y="72.90" font-size="13.14" fill="#2a2a2a" text-anchor="start" font-weight="normal" textLength="27.50" lengthAdjust="spacingAndGlyphs" >26.8</text>
<path d="M498.6,230 L498.6,113 Q498.6,101.8 509.5,101.8 L514.9,101.8 M540.5,101.8 L583.4,101.8 M609.1,101.8 L613,101.8 Q625.5,101.8 625.5,115 L625.5,228 Q625.5,240.6 612.5,240.6 L608.8,240.6 M583.7,240.6 L540.4,240.6 M514.7,240.6 L510.5,240.6 Q498.6,240.6 498.6,230" fill="none" stroke="#262626" stroke-width="1.0" />
<rect x="514.90" y="97.30" width="25.60" height="8.20" rx="0" fill="none" stroke="#262626" stroke-width="1.0"/>
<rect x="583.40" y="97.30" width="25.70" height="8.20" rx="0" fill="none" stroke="#262626" stroke-width="1.0"/>
<rect x="514.70" y="237.90" width="25.70" height="6.80" rx="0" fill="none" stroke="#262626" stroke-width="1.0"/>
<rect x="583.70" y="237.90" width="25.10" height="7.50" rx="0" fill="none" stroke="#262626" stroke-width="1.0"/>
<polyline points="540.50,105.50 540.50,110.80 544.80,110.80 544.80,105.50 578.80,105.50 578.80,110.80 583.40,110.80 583.40,105.50" fill="none" stroke="#262626" stroke-width="1.0" stroke-linejoin="miter"/>
<polyline points="514.90,105.50 514.90,121.00 505.50,131.70" fill="none" stroke="#262626" stroke-width="1.0" stroke-linejoin="miter"/>
<polyline points="609.10,105.50 609.10,121.00 618.30,134.60" fill="none" stroke="#262626" stroke-width="1.0" stroke-linejoin="miter"/>
<path d="M505.5,131.7 L505.5,229.5 Q505.5,236.9 512.6,236.9 L540.4,236.9 L540.4,231.8 L545.9,231.8 L545.9,237.2 L578.3,237.2 L578.3,231.8 L583.7,231.8 L583.7,237.2 L608.8,237.2 Q618.3,237.2 618.3,229.8 L618.3,134.6" fill="none" stroke="#262626" stroke-width="1.0" />
<line x1="505.50" y1="139.50" x2="541.60" y2="139.50" stroke="#262626" stroke-width="1.0"/>
<line x1="547.60" y1="139.50" x2="548.00" y2="139.50" stroke="#262626" stroke-width="1.0"/>
<line x1="575.00" y1="139.50" x2="576.30" y2="139.50" stroke="#262626" stroke-width="1.0"/>
<line x1="582.30" y1="139.50" x2="618.30" y2="139.50" stroke="#262626" stroke-width="1.0"/>
<line x1="505.50" y1="140.90" x2="541.60" y2="140.90" stroke="#777" stroke-width="0.6"/>
<line x1="582.30" y1="140.90" x2="618.30" y2="140.90" stroke="#777" stroke-width="0.6"/>
<path d="M541.6,139.5 L541.6,131.6 Q541.6,128.6 544.6,128.6 Q547.6,128.6 547.6,131.6 L547.6,139.5" fill="none" stroke="#262626" stroke-width="1.0" />
<path d="M576.3,139.5 L576.3,131.6 Q576.3,128.6 579.3,128.6 Q582.3,128.6 582.3,131.6 L582.3,139.5" fill="none" stroke="#262626" stroke-width="1.0" />
<line x1="553.60" y1="107.90" x2="553.60" y2="112.30" stroke="#262626" stroke-width="1.0"/>
<line x1="548.70" y1="112.30" x2="558.40" y2="112.30" stroke="#262626" stroke-width="1.1"/>
<line x1="549.20" y1="115.60" x2="557.90" y2="115.60" stroke="#262626" stroke-width="1.1"/>
<line x1="550.70" y1="118.40" x2="556.50" y2="118.40" stroke="#262626" stroke-width="1.1"/>
<text x="565.40" y="119.00" font-size="15.14" fill="#2a2a2a" text-anchor="start" font-weight="normal" textLength="6.60" lengthAdjust="spacingAndGlyphs" >E</text>
<rect x="551.00" y="120.90" width="21.90" height="4.20" rx="0" fill="none" stroke="#262626" stroke-width="1.0"/>
<rect x="548.00" y="125.10" width="27.00" height="4.30" rx="0" fill="none" stroke="#262626" stroke-width="1.0"/>
<line x1="552.50" y1="125.10" x2="552.50" y2="129.40" stroke="#262626" stroke-width="0.6"/>
<line x1="556.00" y1="125.10" x2="556.00" y2="129.40" stroke="#262626" stroke-width="0.6"/>
<line x1="567.50" y1="125.10" x2="567.50" y2="129.40" stroke="#262626" stroke-width="0.6"/>
<line x1="571.00" y1="125.10" x2="571.00" y2="129.40" stroke="#262626" stroke-width="0.6"/>
<polyline points="548.00,129.40 548.00,144.90 554.90,150.40 569.00,150.40 575.00,144.90 575.00,129.40" fill="none" stroke="#333" stroke-width="2.3" stroke-linejoin="miter"/>
<polyline points="548.00,129.40 548.00,144.90 554.90,150.40 569.00,150.40 575.00,144.90 575.00,129.40" fill="none" stroke="#fff" stroke-width="0.7" stroke-linejoin="miter"/>
<rect x="555.70" y="134.60" width="12.00" height="12.00" rx="0" fill="none" stroke="#262626" stroke-width="1.0"/>
<rect x="556.90" y="135.80" width="9.60" height="9.60" fill="none" stroke="#888" stroke-width="0.6"/>
<line x1="556.70" y1="135.60" x2="566.70" y2="145.60" stroke="#000" stroke-width="1.3"/>
<line x1="566.70" y1="135.60" x2="556.70" y2="145.60" stroke="#000" stroke-width="1.3"/>
<polygon points="556.60,135.50 563.20,139.10 560.20,142.10" fill="#000"/>
<polygon points="566.80,145.70 563.20,139.10 560.20,142.10" fill="#000"/>
<polygon points="566.80,135.50 563.20,142.10 560.20,139.10" fill="#000"/>
<polygon points="556.60,145.70 563.20,142.10 560.20,139.10" fill="#000"/>
<polyline points="518.70,170.00 518.70,151.70 524.20,145.60 540.40,145.60 547.20,152.40 547.20,170.00" fill="none" stroke="#333" stroke-width="2.3" stroke-linejoin="miter"/>
<polyline points="518.70,170.00 518.70,151.70 524.20,145.60 540.40,145.60 547.20,152.40 547.20,170.00" fill="none" stroke="#fff" stroke-width="0.7" stroke-linejoin="miter"/>
<rect x="518.70" y="169.30" width="28.50" height="2.70" rx="0" fill="none" stroke="#262626" stroke-width="0.9"/>
<rect x="521.50" y="172.00" width="22.30" height="4.10" rx="0" fill="none" stroke="#262626" stroke-width="0.9"/>
<line x1="522.50" y1="169.30" x2="522.50" y2="172.00" stroke="#262626" stroke-width="0.6"/>
<line x1="526.50" y1="169.30" x2="526.50" y2="172.00" stroke="#262626" stroke-width="0.6"/>
<line x1="538.50" y1="169.30" x2="538.50" y2="172.00" stroke="#262626" stroke-width="0.6"/>
<line x1="542.50" y1="169.30" x2="542.50" y2="172.00" stroke="#262626" stroke-width="0.6"/>
<line x1="530.30" y1="139.50" x2="530.30" y2="145.60" stroke="#262626" stroke-width="1.0"/>
<rect x="526.20" y="150.30" width="12.90" height="12.90" rx="0" fill="none" stroke="#262626" stroke-width="1.0"/>
<rect x="527.40" y="151.50" width="10.50" height="10.50" fill="none" stroke="#888" stroke-width="0.6"/>
<line x1="527.20" y1="151.30" x2="538.10" y2="162.20" stroke="#000" stroke-width="1.3"/>
<line x1="538.10" y1="151.30" x2="527.20" y2="162.20" stroke="#000" stroke-width="1.3"/>
<polygon points="527.10,151.20 534.15,155.25 531.15,158.25" fill="#000"/>
<polygon points="538.20,162.30 534.15,155.25 531.15,158.25" fill="#000"/>
<polygon points="538.20,151.20 534.15,158.25 531.15,155.25" fill="#000"/>
<polygon points="527.10,162.30 534.15,158.25 531.15,155.25" fill="#000"/>
<path d="M547.2,157.8 L576.3,157.8" fill="none" stroke="#262626" stroke-width="1.0" />
<path d="M547.2,152.4 L547.2,168 Q547.2,170.7 550.2,170.7 Q553.3,170.7 553.3,168 L553.3,157.8" fill="none" stroke="#262626" stroke-width="1.0" />
<path d="M570.9,157.8 L570.9,167.2 Q570.9,170.2 573.6,170.2 Q576.3,170.2 576.3,167.2 L576.3,157.8" fill="none" stroke="#262626" stroke-width="1.0" />
<polyline points="541.60,139.50 541.60,140.90" fill="none" stroke="#262626" stroke-width="0.6" stroke-linejoin="miter"/>
<text x="507.90" y="152.20" font-size="14.71" fill="#2a2a2a" text-anchor="start" font-weight="normal" textLength="8.80" lengthAdjust="spacingAndGlyphs" >N</text>
<text x="608.80" y="152.20" font-size="14.71" fill="#2a2a2a" text-anchor="start" font-weight="normal" textLength="6.80" lengthAdjust="spacingAndGlyphs" >L</text>
<polyline points="577.00,169.30 577.00,151.70 580.40,146.30 600.70,146.30 605.40,152.40 605.40,170.00" fill="none" stroke="#333" stroke-width="2.3" stroke-linejoin="miter"/>
<polyline points="577.00,169.30 577.00,151.70 580.40,146.30 600.70,146.30 605.40,152.40 605.40,170.00" fill="none" stroke="#fff" stroke-width="0.7" stroke-linejoin="miter"/>
<line x1="605.40" y1="170.00" x2="618.30" y2="170.00" stroke="#262626" stroke-width="1.0"/>
<polyline points="577.00,169.30 582.40,169.30 582.40,172.00" fill="none" stroke="#262626" stroke-width="1.0" stroke-linejoin="miter"/>
<line x1="593.90" y1="139.50" x2="593.90" y2="146.30" stroke="#262626" stroke-width="1.0"/>
<rect x="585.10" y="151.00" width="12.90" height="12.20" rx="0" fill="none" stroke="#262626" stroke-width="1.0"/>
<rect x="586.30" y="152.20" width="10.50" height="9.80" fill="none" stroke="#888" stroke-width="0.6"/>
<line x1="586.10" y1="152.00" x2="597.00" y2="162.20" stroke="#000" stroke-width="1.3"/>
<line x1="597.00" y1="152.00" x2="586.10" y2="162.20" stroke="#000" stroke-width="1.3"/>
<polygon points="586.00,151.90 593.05,155.60 590.05,158.60" fill="#000"/>
<polygon points="597.10,162.30 593.05,155.60 590.05,158.60" fill="#000"/>
<polygon points="597.10,151.90 593.05,158.60 590.05,155.60" fill="#000"/>
<polygon points="586.00,162.30 593.05,158.60 590.05,155.60" fill="#000"/>
<path d="M583.7,170 L583.7,219 Q583.7,221.9 586.7,221.9 L601.8,221.9 Q604.8,221.9 604.8,219 L604.8,170" fill="none" stroke="#262626" stroke-width="1.0" />
<rect x="589.80" y="203.30" width="12.30" height="12.20" rx="0" fill="none" stroke="#262626" stroke-width="1.0"/>
<rect x="591.00" y="204.50" width="9.90" height="9.80" fill="none" stroke="#888" stroke-width="0.6"/>
<line x1="590.80" y1="204.30" x2="601.10" y2="214.50" stroke="#000" stroke-width="1.3"/>
<line x1="601.10" y1="204.30" x2="590.80" y2="214.50" stroke="#000" stroke-width="1.3"/>
<polygon points="590.70,204.20 597.45,207.90 594.45,210.90" fill="#000"/>
<polygon points="601.20,214.60 597.45,207.90 594.45,210.90" fill="#000"/>
<polygon points="601.20,204.20 597.45,210.90 594.45,207.90" fill="#000"/>
<polygon points="590.70,214.60 597.45,210.90 594.45,207.90" fill="#000"/>
<text transform="translate(608.20,171.60) rotate(90)" x="0" y="0" font-size="10.57" fill="#2a2a2a" text-anchor="start" font-weight="normal" textLength="14.20" lengthAdjust="spacingAndGlyphs" >10A</text>
<text transform="translate(608.20,192.60) rotate(90)" x="0" y="0" font-size="10.57" fill="#2a2a2a" text-anchor="start" font-weight="normal" textLength="28.40" lengthAdjust="spacingAndGlyphs" >250VAC</text>
<path d="M518.7,172 L518.7,191.1 L531.5,191.1 Q534.3,191.1 534.3,194 L534.3,197.9" fill="none" stroke="#262626" stroke-width="1.0" />
<polyline points="514.70,221.60 514.70,202.60 520.10,197.90 534.30,197.90 541.10,204.70 541.10,221.60" fill="none" stroke="#333" stroke-width="2.3" stroke-linejoin="miter"/>
<polyline points="514.70,221.60 514.70,202.60 520.10,197.90 534.30,197.90 541.10,204.70 541.10,221.60" fill="none" stroke="#fff" stroke-width="0.7" stroke-linejoin="miter"/>
<rect x="514.70" y="221.60" width="26.40" height="2.70" rx="0" fill="none" stroke="#262626" stroke-width="0.9"/>
<rect x="517.40" y="224.30" width="21.70" height="4.10" rx="0" fill="none" stroke="#262626" stroke-width="0.9"/>
<line x1="518.50" y1="221.60" x2="518.50" y2="224.30" stroke="#262626" stroke-width="0.6"/>
<line x1="522.50" y1="221.60" x2="522.50" y2="224.30" stroke="#262626" stroke-width="0.6"/>
<line x1="534.50" y1="221.60" x2="534.50" y2="224.30" stroke="#262626" stroke-width="0.6"/>
<line x1="538.50" y1="221.60" x2="538.50" y2="224.30" stroke="#262626" stroke-width="0.6"/>
<line x1="505.50" y1="221.00" x2="514.70" y2="221.00" stroke="#262626" stroke-width="1.0"/>
<rect x="522.10" y="203.30" width="12.20" height="12.20" rx="0" fill="none" stroke="#262626" stroke-width="1.0"/>
<rect x="523.30" y="204.50" width="9.80" height="9.80" fill="none" stroke="#888" stroke-width="0.6"/>
<line x1="523.10" y1="204.30" x2="533.30" y2="214.50" stroke="#000" stroke-width="1.3"/>
<line x1="533.30" y1="204.30" x2="523.10" y2="214.50" stroke="#000" stroke-width="1.3"/>
<polygon points="523.00,204.20 529.70,207.90 526.70,210.90" fill="#000"/>
<polygon points="533.40,214.60 529.70,207.90 526.70,210.90" fill="#000"/>
<polygon points="533.40,204.20 529.70,210.90 526.70,207.90" fill="#000"/>
<polygon points="523.00,214.60 529.70,210.90 526.70,207.90" fill="#000"/>
<circle cx="561.7" cy="209.8" r="10.7" fill="none" stroke="#262626" stroke-width="1.0"/>
<text x="540.30" y="183.90" font-size="8.71" fill="#2a2a2a" text-anchor="start" font-weight="normal" textLength="40.80" lengthAdjust="spacingAndGlyphs" >ROCKTEK</text>
<text x="544.30" y="195.00" font-size="10.43" fill="#2a2a2a" text-anchor="start" font-weight="normal" textLength="33.80" lengthAdjust="spacingAndGlyphs" >RT–D01</text>
<clipPath id="cutclip"><path d="M475.8,333.1 L581.7,333.1 Q585.2,333.1 585.2,336.6 L585.2,460.5 Q585.2,464 581.7,464 L475.8,464 Q472.3,464 472.3,460.5 L472.3,336.6 Q472.3,333.1 475.8,333.1 Z"/></clipPath>
<g clip-path="url(#cutclip)"><line x1="197.55" y1="600" x2="497.55" y2="300" stroke="#161616" stroke-width="1.0"/><line x1="212.30" y1="600" x2="512.30" y2="300" stroke="#161616" stroke-width="1.0"/><line x1="227.05" y1="600" x2="527.05" y2="300" stroke="#161616" stroke-width="1.0"/><line x1="241.80" y1="600" x2="541.80" y2="300" stroke="#161616" stroke-width="1.0"/><line x1="256.55" y1="600" x2="556.55" y2="300" stroke="#161616" stroke-width="1.0"/><line x1="271.30" y1="600" x2="571.30" y2="300" stroke="#161616" stroke-width="1.0"/><line x1="286.05" y1="600" x2="586.05" y2="300" stroke="#161616" stroke-width="1.0"/><line x1="300.80" y1="600" x2="600.80" y2="300" stroke="#161616" stroke-width="1.0"/><line x1="315.55" y1="600" x2="615.55" y2="300" stroke="#161616" stroke-width="1.0"/><line x1="330.30" y1="600" x2="630.30" y2="300" stroke="#161616" stroke-width="1.0"/><line x1="345.05" y1="600" x2="645.05" y2="300" stroke="#161616" stroke-width="1.0"/><line x1="359.80" y1="600" x2="659.80" y2="300" stroke="#161616" stroke-width="1.0"/><line x1="374.55" y1="600" x2="674.55" y2="300" stroke="#161616" stroke-width="1.0"/><line x1="389.30" y1="600" x2="689.30" y2="300" stroke="#161616" stroke-width="1.0"/><line x1="404.05" y1="600" x2="704.05" y2="300" stroke="#161616" stroke-width="1.0"/><line x1="418.80" y1="600" x2="718.80" y2="300" stroke="#161616" stroke-width="1.0"/><line x1="433.55" y1="600" x2="733.55" y2="300" stroke="#161616" stroke-width="1.0"/><line x1="448.30" y1="600" x2="748.30" y2="300" stroke="#161616" stroke-width="1.0"/><line x1="463.05" y1="600" x2="763.05" y2="300" stroke="#161616" stroke-width="1.0"/><line x1="477.80" y1="600" x2="777.80" y2="300" stroke="#161616" stroke-width="1.0"/><line x1="492.55" y1="600" x2="792.55" y2="300" stroke="#161616" stroke-width="1.0"/></g>
<path d="M475.8,333.1 L581.7,333.1 Q585.2,333.1 585.2,336.6 L585.2,460.5 Q585.2,464 581.7,464 L475.8,464 Q472.3,464 472.3,460.5 L472.3,336.6 Q472.3,333.1 475.8,333.1 Z" fill="none" stroke="#262626" stroke-width="1.0" />
<line x1="472.30" y1="302.30" x2="472.30" y2="333.10" stroke="#262626" stroke-width="0.9"/>
<line x1="585.30" y1="302.30" x2="585.30" y2="333.10" stroke="#262626" stroke-width="0.9"/>
<line x1="472.30" y1="306.60" x2="585.30" y2="306.60" stroke="#262626" stroke-width="0.9"/>
<polygon points="472.30,306.60 480.30,305.10 480.30,308.10" fill="#000"/>
<polygon points="585.30,306.60 577.30,305.10 577.30,308.10" fill="#000"/>
<text x="525.20" y="301.00" font-size="12.57" fill="#2a2a2a" text-anchor="start" font-weight="normal" textLength="7.00" lengthAdjust="spacingAndGlyphs" >Y</text>
<line x1="585.20" y1="333.10" x2="628.30" y2="333.10" stroke="#262626" stroke-width="0.9"/>
<line x1="585.20" y1="464.00" x2="628.30" y2="464.00" stroke="#262626" stroke-width="0.9"/>
<line x1="623.70" y1="333.10" x2="623.70" y2="464.00" stroke="#262626" stroke-width="0.9"/>
<polygon points="623.70,333.10 622.20,341.10 625.20,341.10" fill="#000"/>
<polygon points="623.70,464.00 622.20,456.00 625.20,456.00" fill="#000"/>
<text transform="translate(618.60,402.20) rotate(-90)" x="0" y="0" font-size="12.86" fill="#2a2a2a" text-anchor="start" font-weight="normal" textLength="6.60" lengthAdjust="spacingAndGlyphs" >Z</text>
<line x1="528.60" y1="328.70" x2="528.60" y2="382.50" stroke="#262626" stroke-width="0.9"/>
<line x1="528.60" y1="394.00" x2="528.60" y2="403.00" stroke="#262626" stroke-width="0.9"/>
<line x1="528.60" y1="414.50" x2="528.60" y2="468.30" stroke="#262626" stroke-width="0.9"/>
<line x1="467.90" y1="398.50" x2="513.00" y2="398.50" stroke="#262626" stroke-width="0.9"/>
<line x1="523.20" y1="398.50" x2="534.80" y2="398.50" stroke="#262626" stroke-width="0.9"/>
<line x1="543.50" y1="398.50" x2="588.60" y2="398.50" stroke="#262626" stroke-width="0.9"/>
<line x1="436.30" y1="310.90" x2="471.40" y2="333.10" stroke="#111" stroke-width="1.0"/>
<polygon points="471.4,333.1 464.76,330.50 466.21,328.22" fill="#1a1a1a"/>
<text transform="translate(439,307.5) rotate(30)" font-size="11.5" fill="#2a2a2a" font-style="italic" textLength="14" lengthAdjust="spacingAndGlyphs">R1</text>
<text x="432.00" y="498.50" font-size="15.14" fill="#2a2a2a" text-anchor="start" font-weight="normal" textLength="35.40" lengthAdjust="spacingAndGlyphs" >PANEL</text>
<text x="476.90" y="498.50" font-size="15.14" fill="#2a2a2a" text-anchor="start" font-weight="normal" textLength="42.40" lengthAdjust="spacingAndGlyphs" >CUTOUT</text>
<text x="528.90" y="498.50" font-size="15.14" fill="#2a2a2a" text-anchor="start" font-weight="normal" textLength="59.80" lengthAdjust="spacingAndGlyphs" >DIMENSION</text>
<text x="598.90" y="498.50" font-size="15.14" fill="#2a2a2a" text-anchor="start" font-weight="normal" textLength="31.40" lengthAdjust="spacingAndGlyphs" >TABLE</text>
<line x1="430.00" y1="500.80" x2="630.70" y2="500.80" stroke="#333" stroke-width="1.5"/>
<rect x="67.80" y="322.50" width="338.60" height="89.80" rx="0" fill="none" stroke="#3a3a3a" stroke-width="1.3"/>
<line x1="179.60" y1="322.50" x2="179.60" y2="412.30" stroke="#3a3a3a" stroke-width="1.3"/>
<line x1="293.40" y1="322.50" x2="293.40" y2="412.30" stroke="#3a3a3a" stroke-width="1.3"/>
<line x1="67.80" y1="352.20" x2="406.40" y2="352.20" stroke="#3a3a3a" stroke-width="1.3"/>
<line x1="67.80" y1="382.20" x2="406.40" y2="382.20" stroke="#3a3a3a" stroke-width="1.3"/>
<text x="70.30" y="345.00" font-size="16.00" fill="#2a2a2a" text-anchor="start" font-weight="normal" textLength="42.00" lengthAdjust="spacingAndGlyphs" >X(PANEL</text>
<text x="120.90" y="345.00" font-size="16.00" fill="#2a2a2a" text-anchor="start" font-weight="normal" textLength="57.40" lengthAdjust="spacingAndGlyphs" >THICKNESS)</text>
<text x="181.60" y="345.00" font-size="16.00" fill="#2a2a2a" text-anchor="start" font-weight="normal" textLength="47.00" lengthAdjust="spacingAndGlyphs" >Y(CUTOUT</text>
<text x="236.20" y="345.00" font-size="16.00" fill="#2a2a2a" text-anchor="start" font-weight="normal" textLength="56.50" lengthAdjust="spacingAndGlyphs" >DIMENSION)</text>
<text x="294.80" y="345.00" font-size="16.00" fill="#2a2a2a" text-anchor="start" font-weight="normal" textLength="45.00" lengthAdjust="spacingAndGlyphs" >Z(CUTOUT</text>
<text x="349.00" y="345.00" font-size="16.00" fill="#2a2a2a" text-anchor="start" font-weight="normal" textLength="56.00" lengthAdjust="spacingAndGlyphs" >DIMENSION)</text>
<text x="85.60" y="374.60" font-size="15.71" fill="#2a2a2a" text-anchor="start" font-weight="normal" textLength="47.10" lengthAdjust="spacingAndGlyphs" >0.8~1.25</text>
<text x="139.50" y="374.60" font-size="14.00" fill="#2a2a2a" text-anchor="start" font-weight="normal" textLength="18.20" lengthAdjust="spacingAndGlyphs" >mm</text>
<text x="87.30" y="404.60" font-size="15.71" fill="#2a2a2a" text-anchor="start" font-weight="normal" textLength="45.40" lengthAdjust="spacingAndGlyphs" >1.25~2.0</text>
<text x="139.50" y="404.60" font-size="14.00" fill="#2a2a2a" text-anchor="start" font-weight="normal" textLength="18.20" lengthAdjust="spacingAndGlyphs" >mm</text>
<text x="216.70" y="374.80" font-size="16.14" fill="#2a2a2a" text-anchor="start" font-weight="normal" textLength="29.00" lengthAdjust="spacingAndGlyphs" >28.4±</text>
<text x="246.90" y="367.80" font-size="10.71" fill="#2a2a2a" text-anchor="start" font-weight="normal" textLength="10.20" lengthAdjust="spacingAndGlyphs" >0.2</text>
<text x="250.00" y="377.20" font-size="11.43" fill="#2a2a2a" text-anchor="start" font-weight="normal" textLength="3.60" lengthAdjust="spacingAndGlyphs" >0</text>
<text x="323.60" y="374.80" font-size="16.14" fill="#2a2a2a" text-anchor="start" font-weight="normal" textLength="29.00" lengthAdjust="spacingAndGlyphs" >31.4±</text>
<text x="353.80" y="367.80" font-size="10.71" fill="#2a2a2a" text-anchor="start" font-weight="normal" textLength="10.20" lengthAdjust="spacingAndGlyphs" >0.5</text>
<text x="356.90" y="377.20" font-size="11.43" fill="#2a2a2a" text-anchor="start" font-weight="normal" textLength="3.60" lengthAdjust="spacingAndGlyphs" >0</text>
<text x="216.70" y="404.80" font-size="16.14" fill="#2a2a2a" text-anchor="start" font-weight="normal" textLength="29.00" lengthAdjust="spacingAndGlyphs" >28.4±</text>
<text x="246.90" y="397.80" font-size="10.71" fill="#2a2a2a" text-anchor="start" font-weight="normal" textLength="10.20" lengthAdjust="spacingAndGlyphs" >0.2</text>
<text x="250.00" y="407.20" font-size="11.43" fill="#2a2a2a" text-anchor="start" font-weight="normal" textLength="3.60" lengthAdjust="spacingAndGlyphs" >0</text>
<text x="323.60" y="404.80" font-size="16.14" fill="#2a2a2a" text-anchor="start" font-weight="normal" textLength="29.00" lengthAdjust="spacingAndGlyphs" >31.6±</text>
<text x="353.80" y="397.80" font-size="10.71" fill="#2a2a2a" text-anchor="start" font-weight="normal" textLength="10.20" lengthAdjust="spacingAndGlyphs" >0.5</text>
<text x="356.90" y="407.20" font-size="11.43" fill="#2a2a2a" text-anchor="start" font-weight="normal" textLength="3.60" lengthAdjust="spacingAndGlyphs" >0</text>
</svg></body></html>
